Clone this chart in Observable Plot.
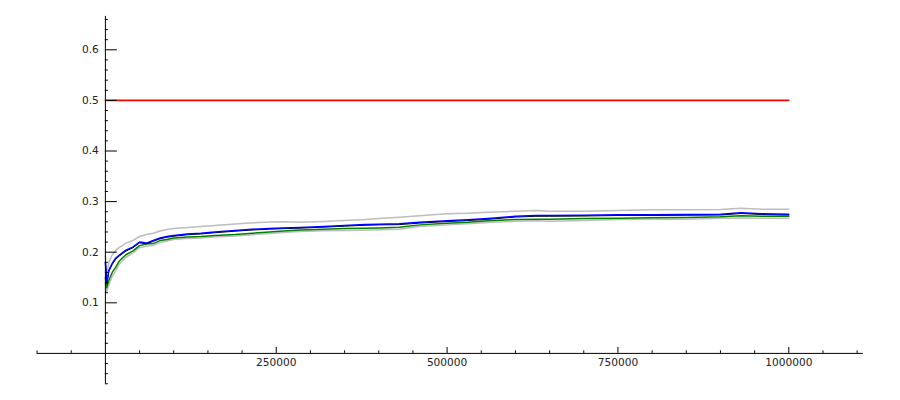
<!DOCTYPE html>
<html><head><meta charset="utf-8">
<script src="https://cdn.jsdelivr.net/npm/d3@7"></script>
<script src="https://cdn.jsdelivr.net/npm/@observablehq/plot@0.6"></script>
<style>body{margin:0;background:#fff}</style>
</head><body><div id="chart"></div>
<script>
const xs = [0,2000,5000,10000,15000,20000,30000,40000,50000,60000,70000,80000,90000,100000,120000,140000,160000,190000,210000,240000,260000,285000,320000,350000,380000,400000,430000,460000,500000,530000,560000,600000,630000,650000,700000,750000,800000,850000,900000,930000,960000,1000000];
const upperGray = [0.193,0.160,0.180,0.195,0.203,0.209,0.218,0.223,0.231,0.235,0.2375,0.242,0.245,0.247,0.249,0.251,0.253,0.2557,0.2577,0.2597,0.260,0.259,0.2607,0.2626,0.2646,0.2666,0.269,0.272,0.276,0.277,0.279,0.281,0.2824,0.281,0.281,0.2824,0.2838,0.2838,0.2844,0.287,0.285,0.285];
const lowerGray = [0.140,0.122,0.135,0.152,0.163,0.176,0.190,0.198,0.209,0.212,0.213,0.219,0.222,0.225,0.227,0.228,0.230,0.232,0.234,0.237,0.239,0.241,0.2423,0.2429,0.2435,0.2442,0.2455,0.2508,0.254,0.256,0.2587,0.261,0.262,0.261,0.2626,0.2646,0.265,0.2653,0.267,0.2677,0.2673,0.2673];
const greenSeries = [0.150,0.130,0.144,0.160,0.170,0.182,0.195,0.202,0.213,0.216,0.217,0.223,0.225,0.228,0.230,0.231,0.233,0.235,0.237,0.240,0.242,0.244,0.2455,0.247,0.2475,0.248,0.2495,0.254,0.257,0.259,0.262,0.2646,0.265,0.265,0.2666,0.267,0.268,0.2686,0.270,0.272,0.271,0.271];
const blackSeries = [0.178,0.137,0.162,0.176,0.186,0.192,0.202,0.2085,0.2185,0.2165,0.2215,0.2265,0.2295,0.2315,0.2345,0.236,0.2385,0.2415,0.2435,0.2455,0.2465,0.2475,0.2495,0.2515,0.2532,0.254,0.2545,0.2575,0.2605,0.2625,0.265,0.2695,0.271,0.271,0.2715,0.2725,0.2725,0.273,0.2735,0.2765,0.2745,0.2735];
const blueSeries = [0.180,0.138,0.164,0.178,0.188,0.194,0.204,0.210,0.220,0.218,0.223,0.228,0.231,0.233,0.236,0.2375,0.240,0.243,0.245,0.247,0.248,0.249,0.251,0.253,0.2547,0.2553,0.256,0.259,0.262,0.264,0.2665,0.271,0.2725,0.2725,0.273,0.274,0.274,0.2745,0.275,0.278,0.276,0.275];
const redLevel = 0.5;
const redX = [0, 1000000];

const xMajor = [250000, 500000, 750000, 1000000];
const xMinor = d3.range(-100000, 1100001, 50000).filter(v => v !== 0 && v % 250000 !== 0);
const yMajor = [0.1, 0.2, 0.3, 0.4, 0.5, 0.6];
const yMinor = d3.range(-6, 67, 2).map(v => v / 100).filter(v => Math.round(v * 100) % 10 !== 0);
const xAxisExtent = [-100000, 1109000];
const yAxisExtent = [-0.06, 0.666];
// tick lengths expressed in data units
const xMajorLen = 0.0118, xMinorLen = 0.005;
const yMajorLen = 17500, yMinorLen = 4400;

const series = [
  {name: "upper", values: upperGray, color: "#bdbdbd", w: 1.5},
  {name: "lower", values: lowerGray, color: "#bdbdbd", w: 1.5},
  {name: "green", values: greenSeries, color: "#008000", w: 1.5},
  {name: "black", values: blackSeries, color: "#000000", w: 1},
  {name: "blue", values: blueSeries, color: "#0000ff", w: 1.5}
];

const lineMarks = series.map(s => Plot.line(xs.map((x, i) => ({x, y: s.values[i]})), {x: "x", y: "y", stroke: s.color, strokeWidth: s.w}));

const chart = Plot.plot({
  width: 900,
  height: 400,
  marginLeft: 104.9,
  marginRight: 111.7,
  marginTop: 49.3,
  marginBottom: 47.1,
  x: {domain: [0, 1000000], axis: null},
  y: {domain: [0, 0.6], axis: null},
  style: {fontFamily: "DejaVu Sans", fontSize: "10.6px", background: "white", overflow: "visible"},
  marks: [
    ...lineMarks,
    Plot.line(redX.map(x => ({x, y: redLevel})), {x: "x", y: "y", stroke: "#ff0000", strokeWidth: 1.6}),
    Plot.ruleY([0], {x1: xAxisExtent[0], x2: xAxisExtent[1], stroke: "black", strokeWidth: 1}),
    Plot.ruleX([0], {y1: yAxisExtent[0], y2: yAxisExtent[1], stroke: "black", strokeWidth: 1}),
    Plot.ruleX(xMajor, {x: d => d, y1: 0, y2: xMajorLen, stroke: "black", strokeWidth: 1}),
    Plot.ruleX(xMinor, {x: d => d, y1: 0, y2: xMinorLen, stroke: "black", strokeWidth: 1}),
    Plot.ruleY(yMajor, {y: d => d, x1: 0, x2: yMajorLen, stroke: "black", strokeWidth: 1}),
    Plot.ruleY(yMinor, {y: d => d, x1: 0, x2: yMinorLen, stroke: "black", strokeWidth: 1}),
    Plot.text(xMajor, {x: d => d, y: 0, dy: 9.5, text: d => String(d), textAnchor: "middle", fill: "#222"}),
    Plot.text(yMajor, {x: 0, y: d => d, dx: -6.6, text: d => String(d), textAnchor: "end", fill: "#222"})
  ]
});
document.getElementById("chart").appendChild(chart);
</script>
</body></html>
